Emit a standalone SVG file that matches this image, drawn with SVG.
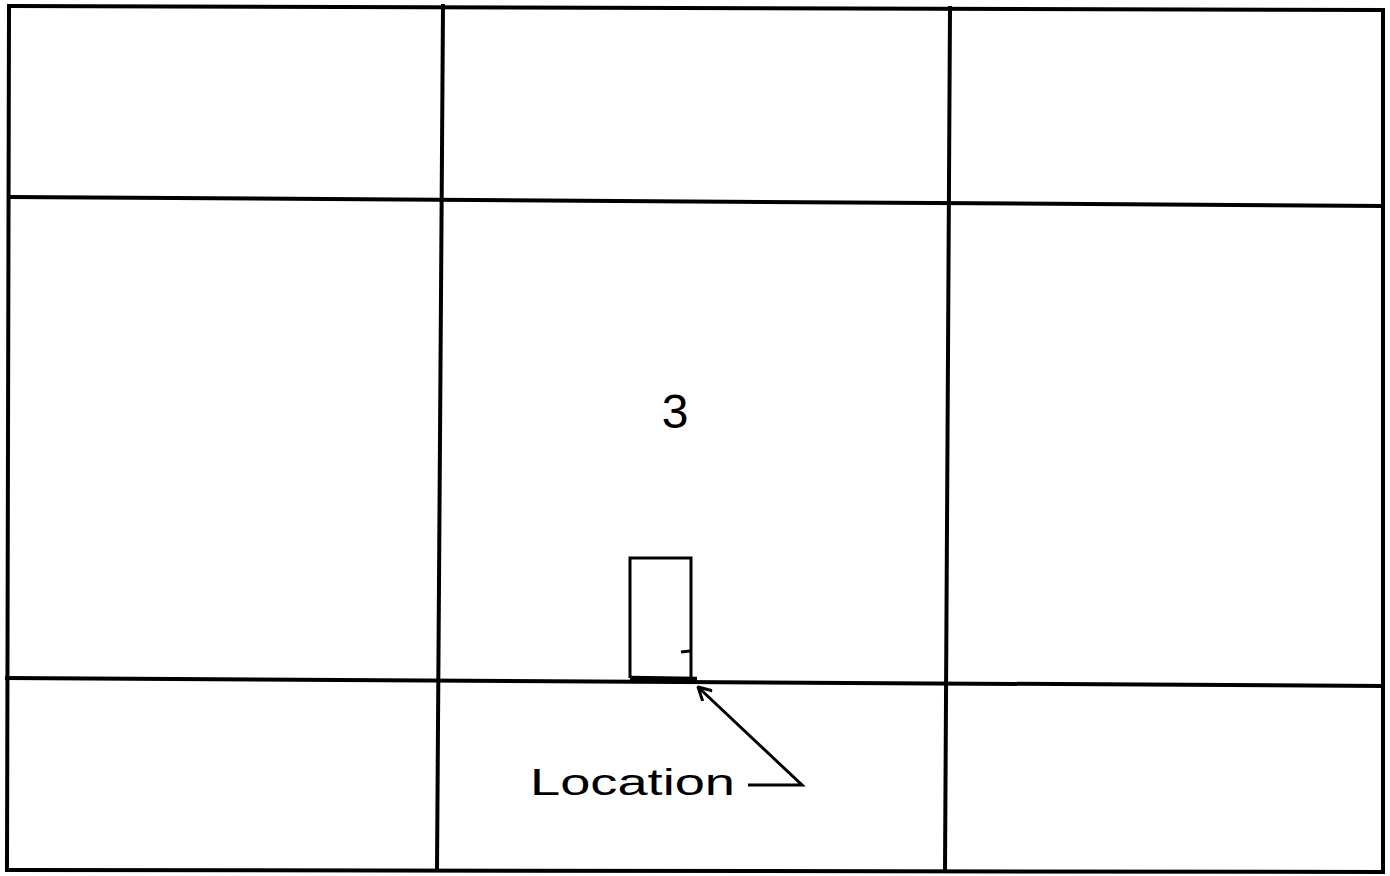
<svg xmlns="http://www.w3.org/2000/svg" width="1390" height="876" viewBox="0 0 1390 876">
<style>
.g{stroke:#000;stroke-width:4;fill:none;stroke-linecap:square}
.d{stroke:#000;stroke-width:3;fill:none}
.t{font-family:"Liberation Sans",Arial,sans-serif;fill:#000}
</style>
<defs>
<marker id="ah" viewBox="0 0 16 16" refX="15" refY="8" markerWidth="16" markerHeight="16" orient="auto" markerUnits="userSpaceOnUse">
<path d="M2,1 L15,8 L2,15" fill="none" stroke="#000" stroke-width="3"/>
</marker>
</defs>
<rect width="1390" height="876" fill="#fff"/>
<g id="grid">
<path class="g" d="M9,6 L1383,10"/>
<path class="g" d="M9,6 L7,870"/>
<path class="g" d="M1383,10 L1383,872"/>
<path class="g" d="M7,870 L1383,872"/>
<path class="g" d="M9,197 L1383,206"/>
<path class="g" d="M7,678 L1383,686"/>
<path class="g" d="M443,6 L437,870"/>
<path class="g" d="M950,8 L945,871"/>
</g>
<g id="door">
<path class="d" d="M630,678 L630,558 L691,558 L691,678"/>
<path class="d" d="M681,652 L690,651"/>
<path d="M630,678 L697,679" stroke="#000" stroke-width="4.5"/>
</g>
<g id="label-3">
<text class="t" x="675" y="428" font-size="48" text-anchor="middle">3</text>
</g>
<g id="location">
<text class="t" x="530" y="795" font-size="36" textLength="205" lengthAdjust="spacingAndGlyphs">Location</text>
</g>
<g id="connectors">
<path class="d" d="M748,785 L802,785 L698,687" marker-end="url(#ah)"/>
</g>
</svg>
